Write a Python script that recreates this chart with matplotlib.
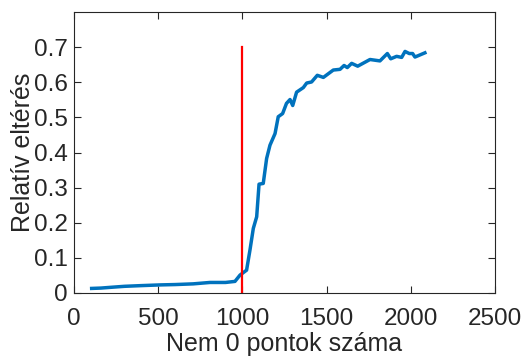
import numpy as np
import matplotlib.pyplot as plt

plt.rcParams["font.family"] = ["Liberation Sans", "DejaVu Sans"]

# points
nonzero = [105, 160, 214, 300, 400, 511, 600, 708, 808, 900, 956, 986, 1025,
           1045, 1065, 1085, 1099, 1124, 1144, 1164, 1194, 1213, 1239, 1262,
           1283, 1299, 1322, 1362, 1382, 1411, 1445, 1481, 1540, 1580, 1604,
           1623, 1649, 1685, 1758, 1817, 1861, 1881, 1916, 1946, 1966, 1991,
           2011, 2025, 2084]
rel_err = [0.013, 0.014, 0.016, 0.019, 0.021, 0.023, 0.024, 0.026, 0.030,
           0.030, 0.033, 0.051, 0.065, 0.122, 0.184, 0.217, 0.310, 0.312,
           0.383, 0.421, 0.454, 0.502, 0.511, 0.540, 0.551, 0.534, 0.572,
           0.585, 0.598, 0.601, 0.620, 0.614, 0.635, 0.637, 0.648, 0.642,
           0.654, 0.646, 0.665, 0.661, 0.682, 0.667, 0.674, 0.671, 0.688,
           0.682, 0.682, 0.672, 0.684]
threshold = 1000
threshold_top = 0.7

fig = plt.figure(figsize=(5.21, 3.56), dpi=100)
ax = fig.add_axes([0.142, 0.177, 0.808, 0.789])

ax.plot(nonzero, rel_err, color=(0, 0.447, 0.741), lw=2.5)
ax.plot([threshold, threshold], [0, threshold_top], color="red", lw=1.6)

ax.set_xlim(0, 2500)
ax.set_ylim(0, 0.8)
ax.set_xticks(np.arange(0, 2501, 500))
ax.set_yticks(np.arange(0, 0.71, 0.1))
ax.set_yticklabels(["0", "0.1", "0.2", "0.3", "0.4", "0.5", "0.6", "0.7"])

dark = "#262626"
for s in ax.spines.values():
    s.set_color(dark)
    s.set_linewidth(0.8)
ax.tick_params(direction="in", top=True, right=True, length=5, width=0.8,
               colors=dark, labelsize=17.5, labelcolor=dark)
ax.tick_params(axis="x", pad=11)
ax.tick_params(axis="y", pad=4.5)
ax.set_xlabel("Nem 0 pontok száma", fontsize=18, color=dark, labelpad=1.5)
ax.set_ylabel("Relatív eltérés", fontsize=18, color=dark, labelpad=-1)

fig.savefig("out.png", dpi=100)
